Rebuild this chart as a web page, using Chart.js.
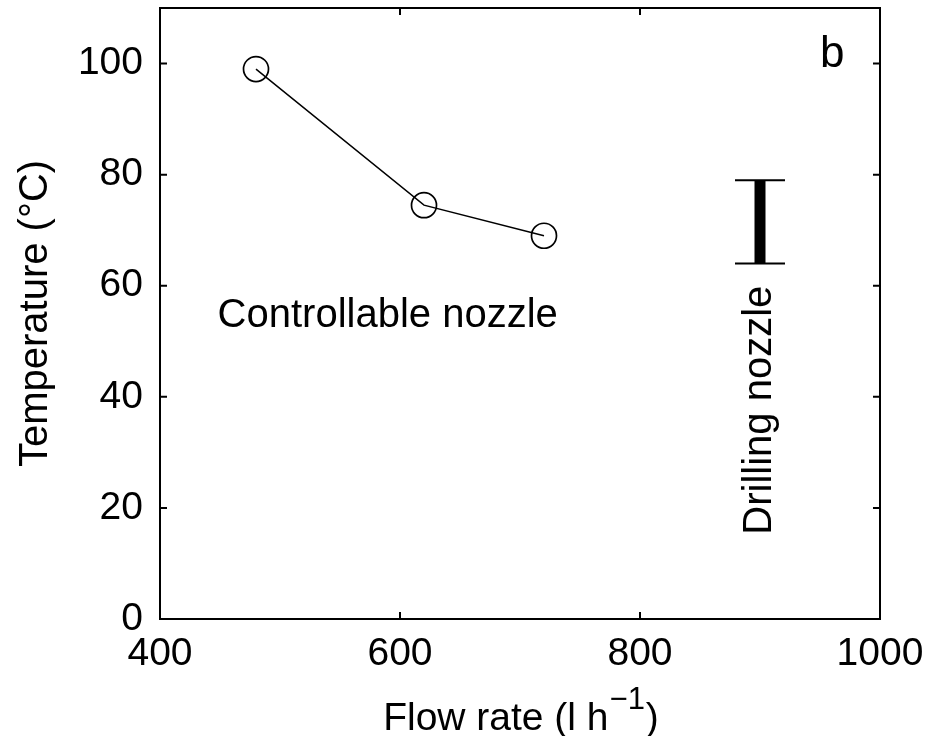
<!DOCTYPE html>
<html>
<head>
<meta charset="utf-8">
<script src="https://cdn.jsdelivr.net/npm/chart.js@4.4.1/dist/chart.umd.min.js"></script>
<style>
html,body{margin:0;padding:0;background:#fff;}
#caja{width:936px;height:736px;}
</style>
</head>
<body>
<div id="caja"><canvas id="g_temperatura"></canvas></div>
<script>
// datos
const flujo = [480, 620, 720];
const temperatura = [99, 74.5, 69];
const taladro_x = [900];
const taladro_min = [64];
const taladro_max = [79];
const ticks_x = [400, 600, 800, 1000];
const ticks_y = [0, 20, 40, 60, 80, 100];
const texto_controlable = "Controllable nozzle";
const texto_taladro = "Drilling nozzle";
const texto_panel = "b";

const fuente = "'Liberation Sans', Arial, sans-serif";

// marco, ticks hacia adentro, barra de error y textos
const extras = {
    id: 'extras',
    afterDraw(chart){
        const ctx = chart.ctx;
        const a = chart.chartArea;
        const sx = chart.scales.x;
        const sy = chart.scales.y;
        ctx.save();
        ctx.strokeStyle = '#000';
        ctx.fillStyle = '#000';

        ctx.lineWidth = 2;
        ctx.strokeRect(a.left, a.top, a.right - a.left, a.bottom - a.top);

        let largo = 7;
        ctx.beginPath();
        ticks_x.forEach(function(v){
            let px = sx.getPixelForValue(v);
            ctx.moveTo(px, a.bottom); ctx.lineTo(px, a.bottom - largo);
            ctx.moveTo(px, a.top); ctx.lineTo(px, a.top + largo);
        });
        ticks_y.forEach(function(v){
            let py = sy.getPixelForValue(v);
            ctx.moveTo(a.left, py); ctx.lineTo(a.left + largo, py);
            ctx.moveTo(a.right, py); ctx.lineTo(a.right - largo, py);
        });
        ctx.stroke();

        // barra del drilling nozzle
        for(let i = 0; i < taladro_x.length; i++){
            let px = sx.getPixelForValue(taladro_x[i]);
            let y1 = sy.getPixelForValue(taladro_min[i]);
            let y2 = sy.getPixelForValue(taladro_max[i]);
            ctx.lineWidth = 11;
            ctx.beginPath();
            ctx.moveTo(px, y1); ctx.lineTo(px, y2);
            ctx.stroke();
            ctx.lineWidth = 2;
            ctx.beginPath();
            ctx.moveTo(px - 25, y1); ctx.lineTo(px + 25, y1);
            ctx.moveTo(px - 25, y2); ctx.lineTo(px + 25, y2);
            ctx.stroke();
        }

        ctx.textBaseline = 'alphabetic';
        ctx.textAlign = 'left';
        ctx.font = "40px " + fuente;
        ctx.fillText(texto_controlable, sx.getPixelForValue(448), sy.getPixelForValue(52.6));
        ctx.font = "44px " + fuente;
        ctx.fillText(texto_panel, sx.getPixelForValue(950), sy.getPixelForValue(99.4));

        ctx.save();
        ctx.font = "40px " + fuente;
        ctx.translate(sx.getPixelForValue(taladro_x[0]), sy.getPixelForValue(37.6));
        ctx.rotate(-Math.PI / 2);
        ctx.textAlign = 'center';
        ctx.textBaseline = 'middle';
        ctx.fillText(texto_taladro, 0, 0);
        ctx.restore();

        // titulo eje x con superindice
        let base = 730;
        let t1 = "Flow rate (l h";
        let sup = "\u22121";
        let t2 = ")";
        ctx.font = "39px " + fuente;
        let w1 = ctx.measureText(t1).width;
        let w3 = ctx.measureText(t2).width;
        ctx.font = "31px " + fuente;
        let w2 = ctx.measureText(sup).width;
        let x0 = (a.left + a.right) / 2 - (w1 + w2 + w3) / 2;
        ctx.font = "39px " + fuente;
        ctx.fillText(t1, x0, base);
        ctx.font = "31px " + fuente;
        ctx.fillText(sup, x0 + w1 + 1, base - 21);
        ctx.font = "39px " + fuente;
        ctx.fillText(t2, x0 + w1 + w2 + 2, base);
        ctx.restore();
    }
};

let ctx = document.getElementById('g_temperatura').getContext('2d');
let g = new Chart(ctx, {
    type: 'scatter',
    data: {
        datasets: [
            {
                data: flujo.map(function(v, i){ return {x: v, y: temperatura[i]}; }),
                showLine: true,
                borderColor: '#000',
                borderWidth: 1.5,
                backgroundColor: 'rgba(0,0,0,0)',
                pointRadius: 12.5,
                pointBorderWidth: 1.7,
                pointBorderColor: '#000',
                pointBackgroundColor: 'rgba(0,0,0,0)'
            }
        ]
    },
    options: {
        responsive: true,
        maintainAspectRatio: false,
        animation: false,
        events: [],
        plugins: {
            legend: { display: false },
            tooltip: { enabled: false }
        },
        layout: {
            autoPadding: false,
            padding: { top: 8, right: 56, left: 0, bottom: 0 }
        },
        scales: {
            x: {
                type: 'linear',
                position: 'bottom',
                min: 400,
                max: 1000,
                grid: { display: false, drawTicks: false },
                border: { display: false },
                ticks: {
                    color: '#000',
                    padding: 12,
                    maxRotation: 0,
                    font: { family: fuente, size: 39 },
                    callback: function(v){ return v; }
                },
                afterBuildTicks: function(s){ s.ticks = ticks_x.map(function(v){ return {value: v}; }); },
                afterFit: function(s){ s.height = 117; s.paddingLeft = 0; s.paddingRight = 0; }
            },
            y: {
                type: 'linear',
                min: 0,
                max: 110,
                grid: { display: false, drawTicks: false },
                border: { display: false },
                ticks: {
                    color: '#000',
                    padding: 17,
                    font: { family: fuente, size: 39 },
                    callback: function(v){ return v; }
                },
                title: {
                    display: true,
                    text: 'Temperature (\u00b0C)',
                    color: '#000',
                    padding: { top: 12, bottom: 0 },
                    font: { family: fuente, size: 40 }
                },
                afterBuildTicks: function(s){ s.ticks = ticks_y.map(function(v){ return {value: v}; }); },
                afterFit: function(s){ s.width = 160; s.paddingTop = 0; s.paddingBottom = 0; }
            }
        }
    },
    plugins: [extras]
});
</script>
</body>
</html>
